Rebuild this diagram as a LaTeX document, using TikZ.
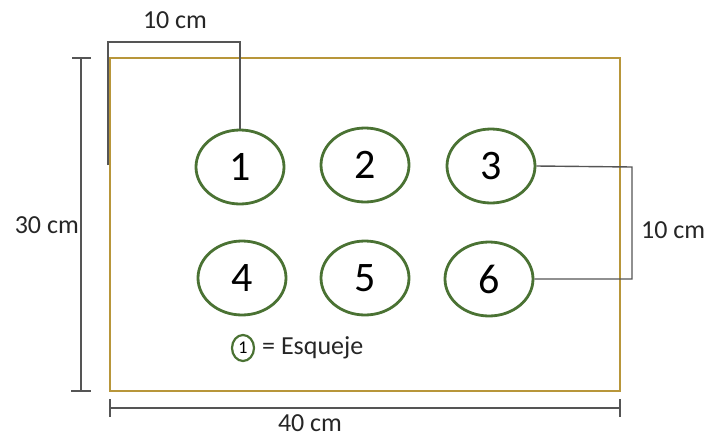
\documentclass[tikz,border=0pt]{standalone}
\usepackage{fontspec}
\setmainfont{Carlito}
\usetikzlibrary{shapes.geometric}
\begin{document}
\begin{tikzpicture}[x=1pt,y=-1pt,
  plant/.style={draw=plantgreen,line width=2.8pt,ellipse,minimum width=88pt,minimum height=74pt,inner sep=0pt,font=\fontsize{42}{44}\selectfont},
  dimline/.style={draw=dimgray,line width=1.4pt},
  lbl/.style={font=\fontsize{26}{28}\selectfont,text=black!85,inner sep=0pt}]
\definecolor{plantgreen}{HTML}{4A7233}
\definecolor{boxgold}{HTML}{B8963A}
\definecolor{dimgray}{HTML}{555555}
\useasboundingbox (0,0) rectangle (710,437);
% container
\draw[boxgold,line width=2pt] (110,58) rectangle (620,391);
% plants
\node[plant] (p1) at (240,167) {1};
\node[plant] (p2) at (365,165) {2};
\node[plant] (p3) at (491,166) {3};
\node[plant] (p4) at (242,278) {4};
\node[plant] (p5) at (365,278) {5};
\node[plant] (p6) at (489,279) {6};
% top dimension
\coordinate (tl) at (108,165);
\coordinate (tla) at (108,42);
\coordinate (tra) at (240,42);
\draw[dimline] (tl) -- (tla) -- (tra) -- (p1.north);
\node[lbl] (t10) at (175,20) {10 cm};
% right dimension
\coordinate (ra) at (632,167);
\coordinate (rb) at (632,279);
\draw[dimline] (p3.east) -- (ra) -- (rb) -- (p6.east);
\node[lbl,anchor=west] (r10) at (641,230) {10 cm};
% left dimension
\coordinate (lt) at (81,58);
\coordinate (lb) at (81,391);
\draw[dimline] (lt) -- (lb);
\draw[dimline] (72,58) -- (91,58);
\draw[dimline] (71,391) -- (91,391);
\node[lbl,anchor=east] (l30) at (79,225) {30 cm};
% bottom dimension
\coordinate (bl) at (110,408);
\coordinate (br) at (620,408);
\draw[dimline] (bl) -- (br);
\draw[dimline] (110,399) -- (110,417);
\draw[dimline] (620,399) -- (620,417);
\node[lbl] (b40) at (310,423) {40 cm};
% legend
\node[draw=plantgreen,line width=2.2pt,ellipse,minimum width=22pt,minimum height=26pt,inner sep=0pt,font=\fontsize{18}{20}\selectfont] (leg) at (243,348) {1};
\node[lbl,anchor=west] (legt) at (262,348) {= Esqueje};
\end{tikzpicture}
\end{document}
